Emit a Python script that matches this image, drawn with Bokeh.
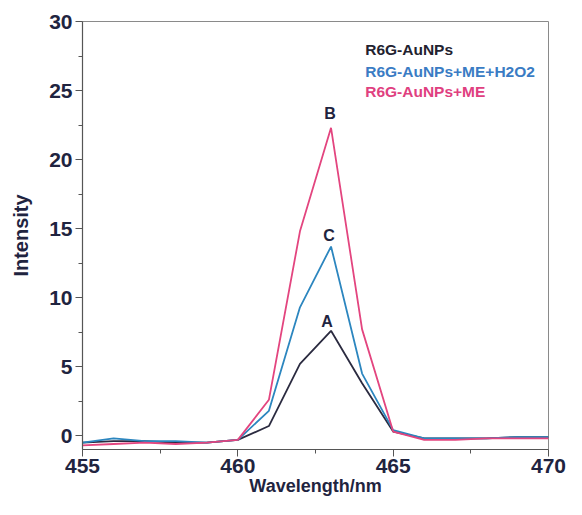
from bokeh.plotting import figure
from bokeh.models import Range1d, FixedTicker, Label
from bokeh.embed import file_html
from bokeh.resources import INLINE

# ---- data -------------------------------------------------------------
wavelength = [455, 456, 457, 458, 459, 460, 461, 462, 463, 464, 465, 466, 467, 468, 469, 470]
a_r6g_aunps = [-0.5, -0.4, -0.4, -0.5, -0.5, -0.3, 0.7, 5.2, 7.6, 3.8, 0.3, -0.2, -0.2, -0.2, -0.1, -0.1]
c_me_h2o2 = [-0.5, -0.2, -0.4, -0.4, -0.5, -0.3, 1.8, 9.3, 13.7, 4.5, 0.4, -0.2, -0.2, -0.2, -0.1, -0.1]
b_me = [-0.7, -0.6, -0.5, -0.6, -0.5, -0.3, 2.6, 14.8, 22.3, 7.7, 0.3, -0.3, -0.3, -0.2, -0.2, -0.2]

series_names = ["R6G-AuNPs", "R6G-AuNPs+ME+H2O2", "R6G-AuNPs+ME"]
peak_letters = ["A", "C", "B"]
x_ticks = [455, 460, 465, 470]
y_ticks = [0, 5, 10, 15, 20, 25, 30]

# ---- styling ----------------------------------------------------------
col_a = "#2b2b40"
col_c = "#2c86bf"
col_b = "#e3457f"
txt_col = "#1f2440"
FONT = "Liberation Sans"

p = figure(width=566, height=499, output_backend="svg", toolbar_location=None,
           x_range=Range1d(455, 470), y_range=Range1d(-1, 30),
           min_border_left=82, min_border_right=18, min_border_top=21, min_border_bottom=50)

p.background_fill_color = "white"
p.border_fill_color = "white"
p.outline_line_color = "#8a8a8a"
p.outline_line_width = 1
p.xgrid.visible = False
p.ygrid.visible = False

series = [a_r6g_aunps, c_me_h2o2, b_me]
colors = [col_a, col_c, col_b]
for ys, c in zip(series, colors):
    p.line(wavelength, ys, line_color=c, line_width=1.8)

# peak letters
offsets = [-1, -3, -6]
xoffs = [-4, -2, -1]
for ys, letter, oy, ox in zip(series, peak_letters, offsets, xoffs):
    i = ys.index(max(ys))
    p.add_layout(Label(x=wavelength[i], y=ys[i], text=letter, text_align="center",
                       text_baseline="bottom", x_offset=ox, y_offset=-oy,
                       text_font=FONT, text_font_size="16px", text_font_style="bold",
                       text_color=txt_col))

# legend-like coloured text
leg_y = [27.97, 26.38, 24.93]
leg_cols = ["#22222f", "#3a7cc4", "#e0407f"]
for name, yy, c in zip(series_names, leg_y, leg_cols):
    p.add_layout(Label(x=464.1, y=yy, text=name, text_align="left", text_baseline="middle",
                       text_font=FONT, text_font_size="15.5px", text_font_style="bold",
                       text_color=c))

# axes
for ax in (p.xaxis[0], p.yaxis[0]):
    ax.axis_line_color = "#555555"
    ax.axis_line_width = 1.2
    ax.major_tick_line_color = "#555555"
    ax.minor_tick_line_color = "#555555"
    ax.major_tick_in = 0
    ax.major_tick_out = 7
    ax.minor_tick_in = 0
    ax.minor_tick_out = 4
    ax.major_label_text_font = FONT
    ax.major_label_text_font_style = "bold"
    ax.major_label_text_color = txt_col
    ax.axis_label_text_font = FONT
    ax.axis_label_text_font_style = "bold"
    ax.axis_label_text_color = txt_col

p.xaxis.ticker = FixedTicker(ticks=x_ticks, minor_ticks=[457.5, 462.5, 467.5])
p.yaxis.ticker = FixedTicker(ticks=y_ticks, minor_ticks=[2.5, 7.5, 12.5, 17.5, 22.5, 27.5])
p.xaxis.major_label_text_font_size = "21px"
p.yaxis.major_label_text_font_size = "21px"
p.xaxis.major_label_standoff = 2
p.yaxis.major_label_standoff = 3
p.xaxis.axis_label = "Wavelength/nm"
p.yaxis.axis_label = "Intensity"
p.xaxis.axis_label_text_font_size = "18px"
p.yaxis.axis_label_text_font_size = "20px"
p.xaxis.axis_label_standoff = 0
p.yaxis.axis_label_standoff = 14

open("out.html", "w").write(file_html(p, INLINE))
